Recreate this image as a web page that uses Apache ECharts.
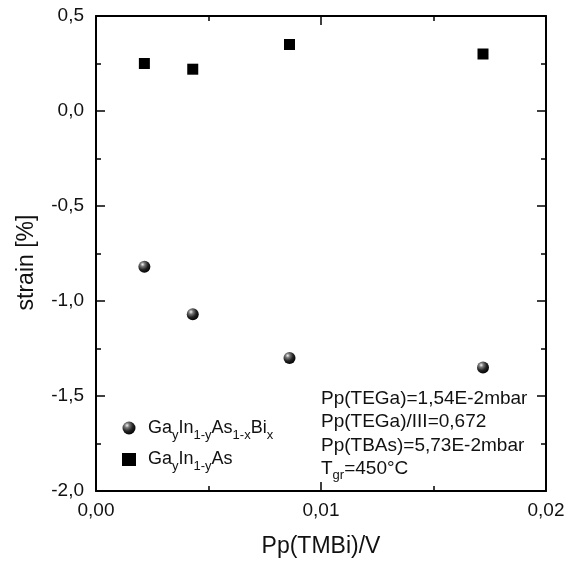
<!DOCTYPE html>
<html style="height: 100%">
   <head>
       <meta charset="utf-8">
   </head>
   <body style="height: 100%; margin: 0; background: #fff">
       <div id="container" style="width: 569px; height: 572px"></div>
       <script type="text/javascript" src="https://cdn.jsdelivr.net/npm/echarts@6/dist/echarts.min.js"></script>
       <script type="text/javascript">
        // data
        var ppTMBi = [0.00215, 0.0043, 0.0086, 0.0172];
        var strainGaInAsBi = [-0.82, -1.07, -1.30, -1.35];
        var strainGaInAs = [0.25, 0.22, 0.35, 0.30];
        var seriesNames = ['GaInAsBi', 'GaInAs'];
        var legendLabels = [
            'Ga{sub|y}In{sub|1-y}As{sub|1-x}Bi{sub|x}',
            'Ga{sub|y}In{sub|1-y}As'
        ];
        var notes = [
            'Pp(TEGa)=1,54E-2mbar',
            'Pp(TEGa)/III=0,672',
            'Pp(TBAs)=5,73E-2mbar',
            'T{sub|gr}=450°C'
        ];

        function pairs(xs, ys) {
            return xs.map(function (x, i) { return [x, ys[i]]; });
        }

        var dom = document.getElementById("container");
        var myChart = echarts.init(dom);
        var font = 'Liberation Sans, Arial, sans-serif';
        var subStyle = { fontSize: 13, fontFamily: font, color: '#111', padding: [14, 0, 0, 0] };

        var sphere = {
            type: 'radial', x: 0.35, y: 0.3, r: 0.75,
            colorStops: [
                { offset: 0, color: '#f4f4f4' },
                { offset: 0.25, color: '#777' },
                { offset: 0.6, color: '#222' },
                { offset: 1, color: '#000' }
            ]
        };

        function xAxisOf(pos, labels) {
            return {
                type: 'value', position: pos, min: 0, max: 0.02, interval: 0.01,
                name: labels ? 'Pp(TMBi)/V' : '',
                nameLocation: 'middle', nameGap: 44,
                nameTextStyle: { fontSize: 23, fontFamily: font, color: '#111' },
                axisLine: { onZero: false, lineStyle: { color: '#000', width: 2 } },
                axisTick: { inside: true, length: 9, lineStyle: { color: '#000', width: 1.5 } },
                minorTick: { show: true, splitNumber: 2, length: 5, lineStyle: { color: '#000', width: 1.5 } },
                axisLabel: {
                    show: labels, margin: 10, fontSize: 19, fontFamily: font, color: '#111',
                    formatter: function (v) { return v.toFixed(2).replace('.', ','); }
                },
                splitLine: { show: false }
            };
        }

        function yAxisOf(pos, labels) {
            return {
                type: 'value', position: pos, min: -2, max: 0.5, interval: 0.5,
                name: labels ? 'strain [%]' : '',
                nameLocation: 'middle', nameGap: 58,
                nameTextStyle: { fontSize: 23, fontFamily: font, color: '#111', padding: [0, 18, 0, 0] },
                axisLine: { onZero: false, lineStyle: { color: '#000', width: 2 } },
                axisTick: { inside: true, length: 9, lineStyle: { color: '#000', width: 1.5 } },
                minorTick: { show: true, splitNumber: 2, length: 5, lineStyle: { color: '#000', width: 1.5 } },
                axisLabel: {
                    show: labels, margin: 12, fontSize: 19, fontFamily: font, color: '#111',
                    formatter: function (v) { return v.toFixed(1).replace('.', ','); }
                },
                splitLine: { show: false }
            };
        }

        var option = {
            animation: false,
            backgroundColor: '#fff',
            grid: { left: 96, right: 23, top: 16, bottom: 81 },
            xAxis: [xAxisOf('bottom', true), xAxisOf('top', false)],
            yAxis: [yAxisOf('left', true), yAxisOf('right', false)],
            legend: {
                orient: 'vertical', left: 117, top: 414, itemGap: 9,
                itemWidth: 14, itemHeight: 13,
                data: seriesNames,
                formatter: function (name) { return legendLabels[seriesNames.indexOf(name)]; },
                textStyle: { fontSize: 18, fontFamily: font, color: '#111', padding: [0, 0, 0, 7], rich: { sub: subStyle } }
            },
            graphic: [{
                type: 'text', left: 321, top: 387,
                style: {
                    text: notes.join('\n'),
                    font: '19px ' + font, fill: '#111', lineHeight: 23.5,
                    rich: { sub: { fontSize: 13, fontFamily: font, fill: '#111', padding: [12, 0, 0, 0] } }
                }
            }],
            series: [{
                name: seriesNames[0],
                type: 'scatter',
                symbol: 'circle', symbolSize: 12,
                itemStyle: { color: sphere, opacity: 1 },
                data: pairs(ppTMBi, strainGaInAsBi)
            }, {
                name: seriesNames[1],
                type: 'scatter',
                symbol: 'rect', symbolSize: 11,
                itemStyle: { color: '#000', opacity: 1 },
                data: pairs(ppTMBi, strainGaInAs)
            }]
        };

        myChart.setOption(option);
       </script>
   </body>
</html>
